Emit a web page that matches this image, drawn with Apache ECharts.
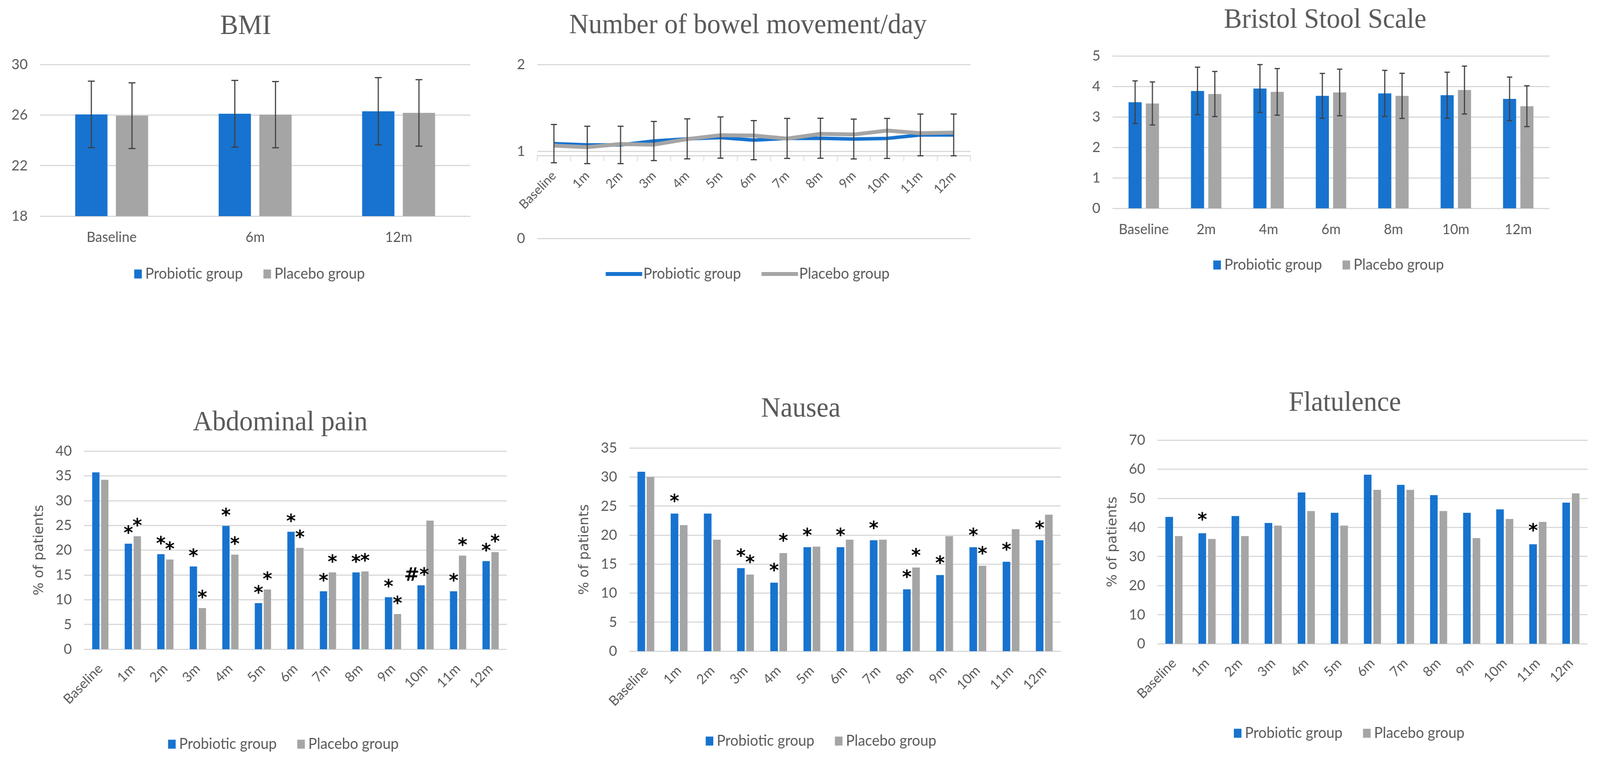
<!DOCTYPE html>
<html><head><meta charset="utf-8">
<script src="https://cdn.jsdelivr.net/npm/echarts@6/dist/echarts.min.js"></script>
<style>html,body{margin:0;padding:0;background:#fff;overflow:hidden}#c{width:4208px;height:1947px;transform-origin:0 0}</style>
</head><body><div id="c"></div>
<script>
// ---------- categories ----------
const monthsAll = ['Baseline','1m','2m','3m','4m','5m','6m','7m','8m','9m','10m','11m','12m'];
const bmiCats = ['Baseline','6m','12m'];
const bristolCats = ['Baseline','2m','4m','6m','8m','10m','12m'];
const seriesNames = ['Probiotic group','Placebo group'];

// ---------- BMI ----------
const bmiProbiotic   = [26.05, 26.10, 26.30];
const bmiProbioticSD = [2.63, 2.64, 2.66];
const bmiPlacebo     = [25.95, 26.03, 26.17];
const bmiPlaceboSD   = [2.60, 2.62, 2.63];
const bmiTicks = {min: 18, max: 30, interval: 4};

// ---------- Bowel movements/day ----------
const bowelProbiotic   = [1.09, 1.075, 1.075, 1.12, 1.145, 1.16, 1.13, 1.15, 1.152, 1.143, 1.15, 1.19, 1.19];
const bowelProbioticSD = [0.22, 0.215, 0.215, 0.225, 0.23, 0.237, 0.225, 0.23, 0.23, 0.229, 0.23, 0.24, 0.24];
const bowelPlacebo     = [1.067, 1.049, 1.085, 1.078, 1.142, 1.187, 1.183, 1.147, 1.202, 1.195, 1.24, 1.21, 1.217];
const bowelTicks = {min: 0, max: 2, interval: 1};
const bowelAxisCross = 0.955;

// ---------- Bristol stool scale ----------
const bristolProbiotic   = [3.48, 3.85, 3.93, 3.69, 3.77, 3.71, 3.59];
const bristolProbioticSD = [0.70, 0.78, 0.785, 0.735, 0.755, 0.755, 0.715];
const bristolPlacebo     = [3.44, 3.75, 3.82, 3.80, 3.69, 3.88, 3.35];
const bristolPlaceboSD   = [0.705, 0.74, 0.765, 0.765, 0.74, 0.785, 0.67];
const bristolTicks = {min: 0, max: 5, interval: 1};

// ---------- Abdominal pain ----------
const abdProbiotic = [35.7, 21.3, 19.2, 16.7, 24.9, 9.3, 23.7, 11.7, 15.5, 10.5, 12.9, 11.7, 17.8];
const abdPlacebo   = [34.2, 22.8, 18.1, 8.3, 19.1, 12.05, 20.45, 15.5, 15.7, 7.1, 25.96, 18.9, 19.6];
const abdProbMarks = ['', '*', '*', '*', '*', '*', '*', '*', '*', '*', '#*', '*', '*'];
const abdPlacMarks = ['', '*', '*', '*', '*', '*', '*', '*', '*', '*', '', '*', '*'];
const abdTicks = {min: 0, max: 40, interval: 5};

// ---------- Nausea ----------
const nauProbiotic = [30.9, 23.7, 23.7, 14.3, 11.8, 17.9, 17.9, 19.1, 10.65, 13.1, 17.9, 15.4, 19.1];
const nauPlacebo   = [30.0, 21.7, 19.2, 13.2, 16.9, 18.0, 19.2, 19.2, 14.4, 19.8, 14.7, 21.0, 23.5];
const nauProbMarks = ['', '*', '', '*', '*', '*', '*', '*', '*', '*', '*', '*', '*'];
const nauPlacMarks = ['', '', '', '*', '*', '', '', '', '*', '', '*', '', ''];
const nauTicks = {min: 0, max: 35, interval: 5};

// ---------- Flatulence ----------
const flaProbiotic = [43.6, 38.0, 43.9, 41.5, 52.0, 45.0, 58.1, 54.6, 51.1, 45.0, 46.2, 34.2, 48.5];
const flaPlacebo   = [37.0, 36.0, 37.0, 40.6, 45.6, 40.6, 52.9, 52.9, 45.6, 36.3, 42.9, 41.9, 51.7];
const flaProbMarks = ['', '*', '', '', '', '', '', '', '', '', '', '*', ''];
const flaPlacMarks = ['', '', '', '', '', '', '', '', '', '', '', '', ''];
const flaTicks = {min: 0, max: 70, interval: 10};

const titles = ['BMI', 'Number of bowel movement/day', 'Bristol Stool Scale', 'Abdominal pain', 'Nausea', 'Flatulence'];
const yName = '% of patients';

// ---------- styles ----------
const BLUE = '#1773CF', GRAY = '#A5A5A5', GRIDC = '#D9D9D9', TXT = '#595959', ERRC = '#404040';
const SANS = 'Lato, "Open Sans", sans-serif';
const SERIF = '"Liberation Serif", "DejaVu Serif", serif';

// fit the 4208x1947 design to the actual viewport
(function () {
  const el = document.getElementById('c');
  const sx = (window.innerWidth || 4208) / 4208, sy = (window.innerHeight || 1947) / 1947;
  if (Math.abs(sx - 1) > 0.001 || Math.abs(sy - 1) > 0.001) el.style.transform = 'scale(' + sx + ',' + sy + ')';
})();

const grids = [
  {left: 105,  top: 165,  width: 1132, height: 388},
  {left: 1413, top: 165,  width: 1139, height: 445},
  {left: 2926, top: 143,  width: 1149, height: 390},
  {left: 221,  top: 1154, width: 1112, height: 507},
  {left: 1655, top: 1146, width: 1135, height: 520},
  {left: 3044, top: 1126, width: 1131, height: 521}
];

function valueAxis(gridIndex, t, extra) {
  return Object.assign({
    type: 'value', gridIndex, min: t.min, max: t.max, interval: t.interval,
    axisLine: {show: false}, axisTick: {show: false},
    axisLabel: {fontFamily: SANS, fontSize: 37, color: TXT, margin: 32},
    splitLine: {show: true, lineStyle: {color: GRIDC, width: 3}}
  }, extra || {});
}
function catAxis(gridIndex, data, extra) {
  return Object.assign({
    type: 'category', gridIndex, data,
    axisLine: {show: false}, axisTick: {show: false},
    axisLabel: {fontFamily: SANS, fontSize: 36, color: TXT, margin: 36, interval: 0}
  }, extra || {});
}
const rotLabel = {fontFamily: SANS, fontSize: 35, color: TXT, margin: 44, interval: 0, rotate: 45};

function barData(vals, marks) {
  return vals.map((v, i) => {
    const m = marks ? marks[i] : '';
    if (!m) return {value: v};
    const lab = {show: true, formatter: m};
    if (m.length > 1) lab.offset = [-12, 0];
    return {value: v, label: lab};
  });
}
function bars(xi, yi, prob, plac, widthPct, gapPct, probMarks, placMarks, dist) {
  const label = {show: false, position: 'top', distance: dist, fontFamily: '"DejaVu Sans", sans-serif',
                 fontSize: 48, fontWeight: 'bold', color: '#000'};
  return [
    {type: 'bar', name: seriesNames[0], xAxisIndex: xi, yAxisIndex: yi, barWidth: widthPct + '%', barGap: gapPct + '%',
     itemStyle: {color: BLUE}, label, data: barData(prob, probMarks)},
    {type: 'bar', name: seriesNames[1], xAxisIndex: xi, yAxisIndex: yi, barWidth: widthPct + '%', barGap: gapPct + '%',
     itemStyle: {color: GRAY}, label, data: barData(plac, placMarks)}
  ];
}
function errBars(xi, yi, means, sds, side, widthPct, gapPct, cap) {
  return {
    type: 'custom', name: 'err', xAxisIndex: xi, yAxisIndex: yi, z: 5,
    data: means.map((m, i) => [i, m, sds[i]]),
    encode: {x: 0, y: 1},
    renderItem(params, api) {
      const i = api.value(0), m = api.value(1), s = api.value(2);
      const band = api.size([1, 0])[0];
      const w = band * widthPct / 100;
      const dx = side * (w + w * gapPct / 100) / 2;
      const top = api.coord([i, m + s]), bot = api.coord([i, m - s]);
      const x = top[0] + dx;
      const style = {stroke: ERRC, lineWidth: 3};
      return {type: 'group', children: [
        {type: 'line', shape: {x1: x, y1: top[1], x2: x, y2: bot[1]}, style},
        {type: 'line', shape: {x1: x - cap, y1: top[1], x2: x + cap, y2: top[1]}, style},
        {type: 'line', shape: {x1: x - cap, y1: bot[1], x2: x + cap, y2: bot[1]}, style}
      ]};
    }
  };
}

const titleCenters = [[641, 66], [1962, 64], [3480, 50], [732, 1080], [2101, 1045], [3532, 1030]];
const title = titles.map((t, i) => ({
  text: t, left: titleCenters[i][0], top: titleCenters[i][1] - 38, textAlign: 'center',
  textStyle: {fontFamily: SERIF, fontSize: 71, fontWeight: 'normal', color: TXT}
}));

const legendPos = [[348, 699], [1588, 699], [3186, 676], [437, 1902], [1851, 1894], [3240, 1874]];
const legend = legendPos.map((p, i) => ({
  left: p[0], top: p[1] - 22, icon: 'rect', selectedMode: false,
  itemWidth: i === 1 ? 96 : 20, itemHeight: i === 1 ? 10 : 23, itemGap: 54,
  textStyle: {fontFamily: SANS, fontSize: 38, color: TXT, padding: [0, 0, 0, i === 1 ? -2 : 4]},
  data: seriesNames
}));

const bowelGrid = grids[1];
const xAxis = [
  catAxis(0, bmiCats),
  catAxis(1, monthsAll, {
    offset: -Math.round(bowelGrid.height * (bowelAxisCross - bowelTicks.min) / (bowelTicks.max - bowelTicks.min)),
    axisLine: {show: true, onZero: false, lineStyle: {color: GRIDC, width: 3}},
    axisTick: {show: true, length: 14, lineStyle: {color: GRIDC, width: 2}},
    axisLabel: Object.assign({}, rotLabel, {fontSize: 33, margin: 46})
  }),
  catAxis(2, bristolCats),
  catAxis(3, monthsAll, {axisLabel: rotLabel}),
  catAxis(4, monthsAll, {axisLabel: rotLabel}),
  catAxis(5, monthsAll, {axisLabel: rotLabel})
];
const yNameStyle = {nameLocation: 'middle', nameGap: 100, name: yName,
  nameTextStyle: {fontFamily: '"DejaVu Sans", sans-serif', fontSize: 35, color: TXT}};
const yAxis = [
  valueAxis(0, bmiTicks),
  valueAxis(1, bowelTicks),
  valueAxis(2, bristolTicks),
  valueAxis(3, abdTicks, yNameStyle),
  valueAxis(4, nauTicks, yNameStyle),
  valueAxis(5, flaTicks, yNameStyle)
];

const series = [].concat(
  bars(0, 0, bmiProbiotic, bmiPlacebo, 22.5, 26),
  [errBars(0, 0, bmiProbiotic, bmiProbioticSD, -1, 22.5, 26, 9),
   errBars(0, 0, bmiPlacebo, bmiPlaceboSD, 1, 22.5, 26, 9)],
  [
    {type: 'line', name: seriesNames[0], xAxisIndex: 1, yAxisIndex: 1, data: bowelProbiotic,
     symbol: 'none', lineStyle: {color: BLUE, width: 9}, itemStyle: {color: BLUE}, z: 2},
    {type: 'line', name: seriesNames[1], xAxisIndex: 1, yAxisIndex: 1, data: bowelPlacebo,
     symbol: 'none', lineStyle: {color: GRAY, width: 10}, itemStyle: {color: GRAY}, z: 3},
    errBars(1, 1, bowelProbiotic, bowelProbioticSD, 0, 0, 0, 8)
  ],
  bars(2, 2, bristolProbiotic, bristolPlacebo, 21, 32),
  [errBars(2, 2, bristolProbiotic, bristolProbioticSD, -1, 21, 32, 7),
   errBars(2, 2, bristolPlacebo, bristolPlaceboSD, 1, 21, 32, 7)],
  bars(3, 3, abdProbiotic, abdPlacebo, 22.5, 22, abdProbMarks, abdPlacMarks, 0),
  bars(4, 4, nauProbiotic, nauPlacebo, 23, 20, nauProbMarks, nauPlacMarks, 4),
  bars(5, 5, flaProbiotic, flaPlacebo, 23, 25, flaProbMarks, flaPlacMarks, 8)
);

const chart = echarts.init(document.getElementById('c'), null, {renderer: 'canvas'});
chart.setOption({
  backgroundColor: '#fff',
  animation: false,
  title, legend, grid: grids, xAxis, yAxis, series
});
</script></body></html>
